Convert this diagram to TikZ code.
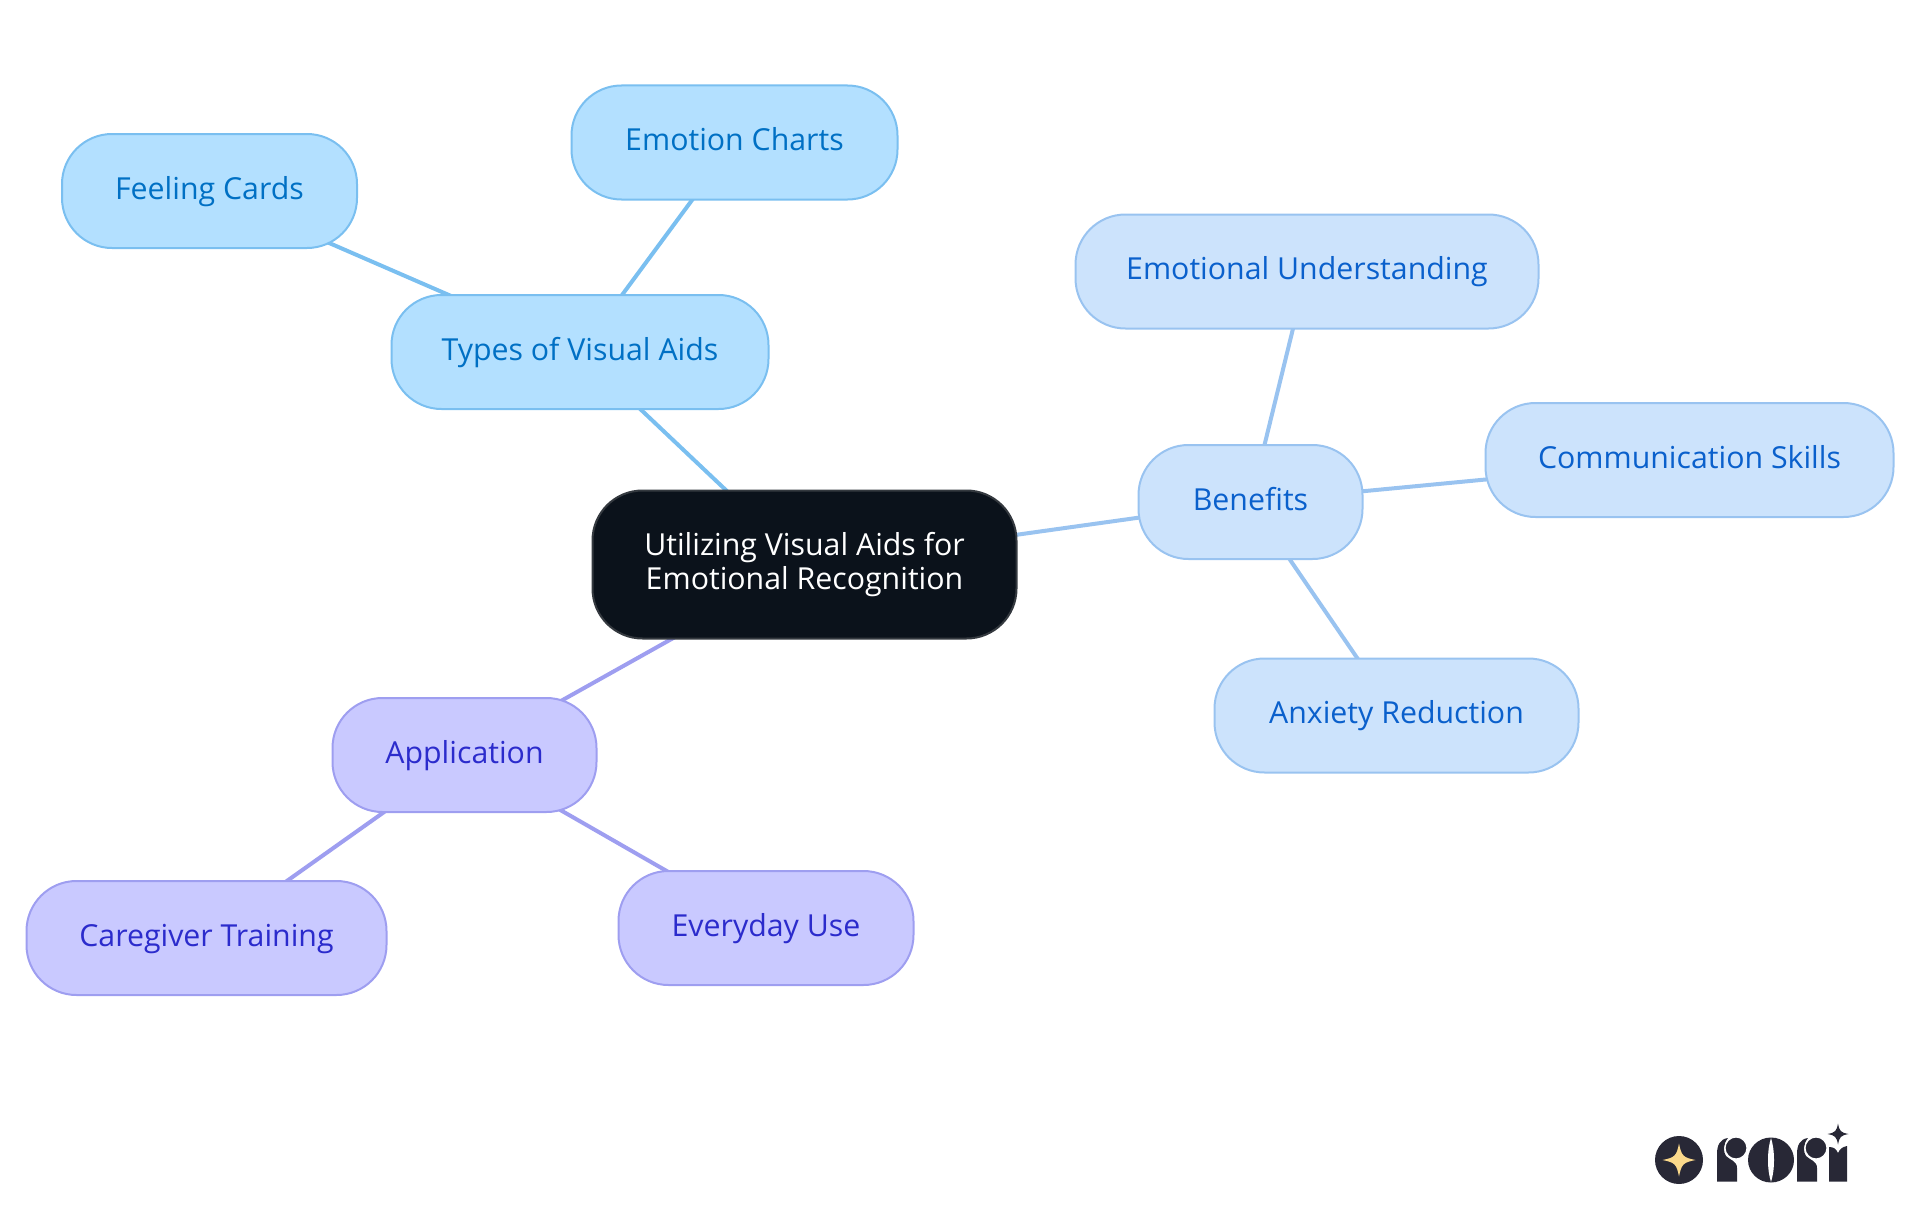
\documentclass[tikz,border=0pt]{standalone}
\usepackage{fontspec}
\setmainfont{Open Sans}
\usetikzlibrary{backgrounds}

\definecolor{rootfill}{HTML}{0B121B}
\definecolor{rootline}{HTML}{34393F}
\definecolor{typesfill}{HTML}{B3E0FF}
\definecolor{typesline}{HTML}{7ABFF0}
\definecolor{typestext}{HTML}{0070C4}
\definecolor{benefitfill}{HTML}{CCE3FC}
\definecolor{benefitline}{HTML}{99C3F0}
\definecolor{benefittext}{HTML}{0A60CC}
\definecolor{applyfill}{HTML}{C9C9FF}
\definecolor{applyline}{HTML}{9E9EF0}
\definecolor{applytext}{HTML}{2B2BCC}
\definecolor{logodark}{HTML}{282836}
\definecolor{logostar}{HTML}{FBD98B}

\tikzset{
    idea/.style={rounded corners=50pt,line width=2pt,inner sep=0pt,
        font=\fontsize{30.3}{34}\selectfont,text height=22pt,text depth=6pt},
    typesidea/.style={idea,draw=typesline,fill=typesfill,text=typestext},
    benefitidea/.style={idea,draw=benefitline,fill=benefitfill,text=benefittext},
    applyidea/.style={idea,draw=applyline,fill=applyfill,text=applytext},
    rootidea/.style={rounded corners=50pt,line width=2pt,inner sep=0pt,align=center,
        font=\fontsize{30.3}{34}\selectfont,draw=rootline,fill=rootfill,text=white},
    typesedge/.style={line width=4pt,draw=typesline},
    benefitedge/.style={line width=4pt,draw=benefitline},
    applyedge/.style={line width=4pt,draw=applyline}
}

% four pointed star: centre x, centre y, half width, colour
\newcommand{\sparkle}[4]{
    \fill[#4] (#1-#3,#2)
    .. controls (#1-#3*0.25,#2-#3*0.15) and (#1-#3*0.15,#2-#3*0.25) .. (#1,#2-#3)
    .. controls (#1+#3*0.15,#2-#3*0.25) and (#1+#3*0.25,#2-#3*0.15) .. (#1+#3,#2)
    .. controls (#1+#3*0.25,#2+#3*0.15) and (#1+#3*0.15,#2+#3*0.25) .. (#1,#2+#3)
    .. controls (#1-#3*0.15,#2+#3*0.25) and (#1-#3*0.25,#2+#3*0.15) .. (#1-#3,#2) -- cycle;
}

% the letter r of the logo: left edge of the stem
\newcommand{\logor}[1]{
    \fill[logodark] (#1,1181.5) -- (#1,1154)
    .. controls (#1,1145) and (#1+3,1139) .. (#1+11,1138)
    .. controls (#1+6,1144) and (#1+6,1152) .. (#1+9,1156)
    .. controls (#1+13,1160) and (#1+20,1161) .. (#1+20,1168)
    -- (#1+20,1181.5) -- cycle;
    \filldraw[fill=logodark,draw=white,line width=1.2pt] (#1+19,1148) circle[radius=11];
}

\begin{document}
\begin{tikzpicture}[x=1pt,y=-1pt]
    \useasboundingbox (0,0) rectangle (1920,1215);

    \node[rootidea,minimum width=424pt,minimum height=148pt] (root) at (804.5,564.5)
        {Utilizing Visual Aids for\\Emotional Recognition};

    \node[typesidea,minimum width=377pt,minimum height=114pt] (types) at (580,352) {Types of Visual Aids};
    \node[typesidea,minimum width=295pt,minimum height=114pt] (feeling) at (209.5,191) {Feeling Cards};
    \node[typesidea,minimum width=326pt,minimum height=114pt] (charts) at (734.5,142.5) {Emotion Charts};

    \node[benefitidea,minimum width=224pt,minimum height=114pt] (benefits) at (1250.5,502) {Benefits};
    \node[benefitidea,minimum width=463pt,minimum height=114pt] (understanding) at (1307,271.5) {Emotional Understanding};
    \node[benefitidea,minimum width=408pt,minimum height=114pt] (communication) at (1689.5,460) {Communication Skills};
    \node[benefitidea,minimum width=364pt,minimum height=114pt] (anxiety) at (1396.5,715.5) {Anxiety Reduction};

    \node[applyidea,minimum width=264pt,minimum height=114pt] (application) at (464.5,755) {Application};
    \node[applyidea,minimum width=360pt,minimum height=114pt] (caregiver) at (206.5,938) {Caregiver Training};
    \node[applyidea,minimum width=295pt,minimum height=114pt] (everyday) at (766,928) {Everyday Use};

    \begin{scope}[on background layer]
        \draw[typesedge] (root.center) -- (types.center);
        \draw[typesedge] (types.center) -- (feeling.center);
        \draw[typesedge] (types.center) -- (charts.center);
        \draw[benefitedge] (root.center) -- (benefits.center);
        \draw[benefitedge] (benefits.center) -- (understanding.center);
        \draw[benefitedge] (benefits.center) -- (communication.center);
        \draw[benefitedge] (benefits.center) -- (anxiety.center);
        \draw[applyedge] (root.center) -- (application.center);
        \draw[applyedge] (application.center) -- (caregiver.center);
        \draw[applyedge] (application.center) -- (everyday.center);
    \end{scope}

    % logo
    \fill[logodark] (1679,1160) circle[radius=24];
    \sparkle{1679}{1160}{16.5}{logostar}
    \logor{1717}
    \logor{1797}
    \fill[logodark] (1771,1160) ellipse[x radius=23,y radius=22.5];
    \fill[white] (1771,1138) .. controls (1767,1150) and (1767,1170) .. (1771,1182)
        .. controls (1775,1170) and (1775,1150) .. (1771,1138) -- cycle;
    \fill[logodark] (1829,1181.5) -- (1829,1147)
        .. controls (1834,1147) and (1836,1149) .. (1838,1153)
        .. controls (1840,1149) and (1842,1147) .. (1847,1146)
        -- (1847,1181.5) -- cycle;
    \sparkle{1838}{1134}{10.5}{logodark}
\end{tikzpicture}
\end{document}
